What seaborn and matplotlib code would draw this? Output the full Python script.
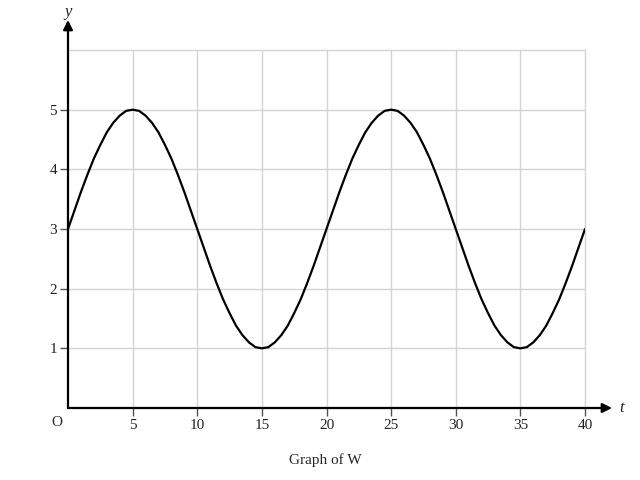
import matplotlib
matplotlib.use("Agg")
import matplotlib.pyplot as plt
import seaborn as sns
import pandas as pd

# values, every half unit of t
t_values = [0.0, 0.5, 1.0, 1.5, 2.0, 2.5, 3.0, 3.5, 4.0, 4.5,
            5.0, 5.5, 6.0, 6.5, 7.0, 7.5, 8.0, 8.5, 9.0, 9.5,
            10.0, 10.5, 11.0, 11.5, 12.0, 12.5, 13.0, 13.5, 14.0, 14.5,
            15.0, 15.5, 16.0, 16.5, 17.0, 17.5, 18.0, 18.5, 19.0, 19.5,
            20.0, 20.5, 21.0, 21.5, 22.0, 22.5, 23.0, 23.5, 24.0, 24.5,
            25.0, 25.5, 26.0, 26.5, 27.0, 27.5, 28.0, 28.5, 29.0, 29.5,
            30.0, 30.5, 31.0, 31.5, 32.0, 32.5, 33.0, 33.5, 34.0, 34.5,
            35.0, 35.5, 36.0, 36.5, 37.0, 37.5, 38.0, 38.5, 39.0, 39.5,
            40.0]
y_values = [3.00, 3.31, 3.62, 3.91, 4.18, 4.41, 4.62, 4.78, 4.90, 4.98,
            5.00, 4.98, 4.90, 4.78, 4.62, 4.41, 4.18, 3.91, 3.62, 3.31,
            3.00, 2.69, 2.38, 2.09, 1.82, 1.59, 1.38, 1.22, 1.10, 1.02,
            1.00, 1.02, 1.10, 1.22, 1.38, 1.59, 1.82, 2.09, 2.38, 2.69,
            3.00, 3.31, 3.62, 3.91, 4.18, 4.41, 4.62, 4.78, 4.90, 4.98,
            5.00, 4.98, 4.90, 4.78, 4.62, 4.41, 4.18, 3.91, 3.62, 3.31,
            3.00, 2.69, 2.38, 2.09, 1.82, 1.59, 1.38, 1.22, 1.10, 1.02,
            1.00, 1.02, 1.10, 1.22, 1.38, 1.59, 1.82, 2.09, 2.38, 2.69,
            3.00]
x_ticks = [5, 10, 15, 20, 25, 30, 35, 40]
y_ticks = [1, 2, 3, 4, 5]

df = pd.DataFrame({"t": t_values, "y": y_values})

sns.set_style("ticks")
plt.rcParams["font.family"] = ["Liberation Serif", "DejaVu Serif"]

fig = plt.figure(figsize=(6.4, 4.8), dpi=100)
ax = fig.add_axes([68 / 640, 1 - 408 / 480, 517 / 640, 358 / 480])

# grid
for xv in x_ticks:
    ax.axvline(xv, color="#d4d4d4", lw=1, zorder=0, clip_on=False)
for yv in y_ticks + [6]:
    ax.axhline(yv, color="#d4d4d4", lw=1, zorder=0, clip_on=False)

sns.lineplot(data=df, x="t", y="y", color="black", lw=1.6, ax=ax, zorder=3)

ax.set_xlim(0, 40)
ax.set_ylim(0, 6)
ax.set_xticks(x_ticks)
ax.set_yticks(y_ticks)
ax.tick_params(axis="both", direction="out", bottom=True, left=True,
               length=6, width=1, color="#555555", labelsize=11, pad=2,
               labelcolor="#222222")
ax.set_xlabel("")
ax.set_ylabel("")
for s in ax.spines.values():
    s.set_visible(False)

# axes with arrow heads
ax.annotate("", xy=(612 / 640, 1 - 408 / 480), xytext=(68 / 640, 1 - 408 / 480),
            xycoords="figure fraction",
            arrowprops=dict(arrowstyle="-|>", color="black", lw=1.6,
                            mutation_scale=14, shrinkA=0, shrinkB=0))
ax.annotate("", xy=(68 / 640, 1 - 20 / 480), xytext=(68 / 640, 1 - 408 / 480),
            xycoords="figure fraction",
            arrowprops=dict(arrowstyle="-|>", color="black", lw=1.6,
                            mutation_scale=14, shrinkA=0, shrinkB=0))

fig.text(622 / 640, 1 - 408 / 480, "t", fontsize=12, style="italic",
         ha="center", va="center")
fig.text(68 / 640, 1 - 12 / 480, "y", fontsize=12, style="italic",
         ha="center", va="center")
fig.text(57 / 640, 1 - 423 / 480, "O", fontsize=11, ha="center", va="center")
fig.text(325 / 640, 1 - 460 / 480, "Graph of W", fontsize=11,
         ha="center", va="center")

fig.savefig("out.png", dpi=100)
